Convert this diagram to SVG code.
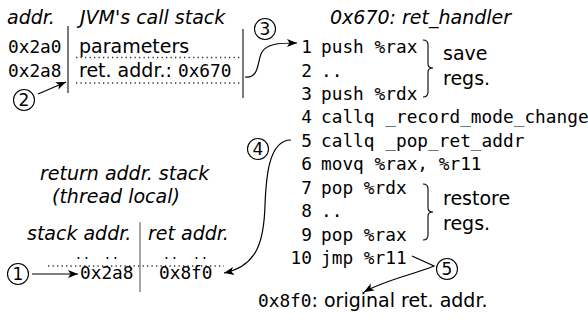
<svg xmlns="http://www.w3.org/2000/svg" width="588" height="320" viewBox="0 0 588 320">
  <style>
    .it { font-family: "DejaVu Sans", sans-serif; font-style: italic; font-size: 19px; fill: #000; }
    .tx { font-family: "DejaVu Sans", sans-serif; font-size: 19px; fill: #000; }
    .mono { font-family: "DejaVu Sans Mono", monospace; font-size: 17.8px; fill: #000; }
    .num { font-family: "DejaVu Sans Mono", monospace; font-size: 17.8px; fill: #000; text-anchor: end; }
    .dot { font-family: "DejaVu Sans", sans-serif; font-size: 15px; fill: #000; }
    .sep { stroke: #333; stroke-width: 1.3; fill: none; }
    .sep2 { stroke: #777; stroke-width: 1.3; fill: none; }
    .dots { stroke: #333; stroke-width: 1.3; stroke-dasharray: 1.3 3.2; fill: none; }
    .wire { stroke: #000; stroke-width: 1.2; fill: none; }
    .brace { stroke: #000; stroke-width: 1.1; fill: none; }
    .badge circle { fill: #fff; stroke: #000; stroke-width: 1.1; }
    .badge text { font-family: "DejaVu Sans", sans-serif; font-size: 17px; text-anchor: middle; fill: #000; }
  </style>
  <defs>
    <marker id="head" markerUnits="userSpaceOnUse" markerWidth="12" markerHeight="10" refX="10" refY="4" orient="auto">
      <path d="M0,0 L10,4 L0,8 L2.5,4 z" fill="#000"/>
    </marker>
  </defs>

  <!-- JVM call stack -->
  <g id="jvm-stack">
    <text class="it" x="7" y="24">addr.</text>
    <text class="it" x="80" y="24">JVM's call stack</text>
    <line class="sep" x1="68" y1="26" x2="68" y2="93"/>
    <line class="sep" x1="243" y1="29" x2="243" y2="98"/>
    <text class="mono" x="8" y="53">0x2a0</text>
    <text class="mono" x="8" y="77">0x2a8</text>
    <text class="tx" x="79" y="53">parameters</text>
    <text class="tx" x="79" y="77">ret. addr.: <tspan class="mono">0x670</tspan></text>
    <line class="dots" x1="76" y1="57.5" x2="241" y2="57.5"/>
    <line class="dots" x1="76" y1="83" x2="241" y2="83"/>
  </g>

  <!-- return address stack (thread local) -->
  <g id="ret-stack">
    <text class="it" x="40" y="180">return addr. stack</text>
    <text class="it" x="52" y="203">(thread local)</text>
    <text class="it" x="27" y="240">stack addr.</text>
    <text class="it" x="148" y="240">ret addr.</text>
    <line class="sep2" x1="140" y1="222" x2="140" y2="292"/>
    <text class="dot" x="76 84 105 113" y="259">....</text>
    <text class="dot" x="164 172 194 202" y="259">....</text>
    <line class="dots" x1="48" y1="266" x2="224" y2="266"/>
    <text class="mono" x="80" y="279">0x2a8</text>
    <text class="mono" x="159" y="279">0x8f0</text>
  </g>

  <!-- ret_handler listing -->
  <g id="ret-handler">
    <text class="it" x="330" y="24">0x670: ret_handler</text>
    <text class="num" x="312" y="53">1</text><text class="mono" x="321" y="53">push %rax</text>
    <text class="num" x="312" y="76.5">2</text><text class="mono" x="321" y="76.5">..</text>
    <text class="num" x="312" y="100">3</text><text class="mono" x="321" y="100">push %rdx</text>
    <text class="num" x="312" y="123">4</text><text class="mono" x="321" y="123">callq _record_mode_change</text>
    <text class="num" x="312" y="146.5">5</text><text class="mono" x="321" y="146.5">callq _pop_ret_addr</text>
    <text class="num" x="312" y="170">6</text><text class="mono" x="321" y="170">movq %rax, %r11</text>
    <text class="num" x="312" y="193.5">7</text><text class="mono" x="321" y="193.5">pop %rdx</text>
    <text class="num" x="312" y="217">8</text><text class="mono" x="321" y="217">..</text>
    <text class="num" x="312" y="240.5">9</text><text class="mono" x="321" y="240.5">pop %rax</text>
    <text class="num" x="312" y="264">10</text><text class="mono" x="321" y="264">jmp %r11</text>
  </g>

  <!-- register save / restore groups -->
  <g id="save-regs">
    <path class="brace" d="M423,40 Q428,40 428,45 L428,64 Q428,68 433,68 Q428,68 428,72 L428,92 Q428,97 423,97"/>
    <text class="tx" x="443" y="60">save</text>
    <text class="tx" x="443" y="85">regs.</text>
  </g>
  <g id="restore-regs">
    <path class="brace" d="M423,184 Q428,184 428,189 L428,208 Q428,212 433,212 Q428,212 428,216 L428,235 Q428,240 423,240"/>
    <text class="tx" x="443" y="205">restore</text>
    <text class="tx" x="443" y="230">regs.</text>
  </g>

  <g id="original-ret">
    <text class="mono" x="258" y="307">0x8f0<tspan class="tx">: original ret. addr.</tspan></text>
  </g>

  <!-- step connectors -->
  <g id="connectors">
    <path class="wire" d="M32,274 L78,274" marker-end="url(#head)"/>
    <path class="wire" d="M38,94 L66,82" marker-end="url(#head)"/>
    <path class="wire" d="M245,77 C260,79 257,60 262,52 C267,44 277,43 297,43" marker-end="url(#head)"/>
    <path class="wire" d="M291,140 C268,140 266,180 265,205 C264,240 258,266 224,273" marker-end="url(#head)"/>
    <path class="wire" d="M412,256 L434,266 C415,274 385,280 364,292" marker-end="url(#head)"/>
  </g>

  <!-- step badges -->
  <g id="step1" class="badge"><circle cx="18" cy="274" r="10.5"/><text x="18" y="280">1</text></g>
  <g id="step2" class="badge"><circle cx="24" cy="100" r="10.5"/><text x="24" y="106">2</text></g>
  <g id="step3" class="badge"><circle cx="265" cy="29" r="10.5"/><text x="265" y="35">3</text></g>
  <g id="step4" class="badge"><circle cx="258" cy="149" r="10.5"/><text x="258" y="155">4</text></g>
  <g id="step5" class="badge"><circle cx="447" cy="269" r="10.5"/><text x="447" y="275">5</text></g>
</svg>
